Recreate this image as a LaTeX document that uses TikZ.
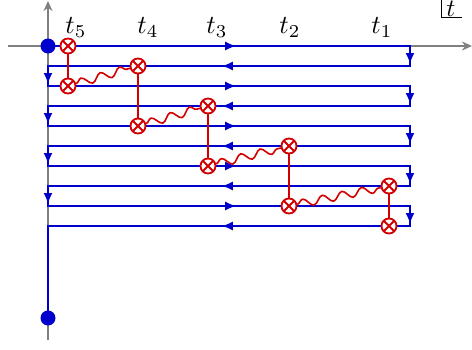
\documentclass[tikz,border=0pt]{standalone}
\usetikzlibrary{arrows.meta,decorations.markings,decorations.pathmorphing}
\definecolor{cblue}{RGB}{0,0,205}
\definecolor{cred}{RGB}{210,0,0}
\definecolor{cgray}{RGB}{128,128,128}
\begin{document}
\begin{tikzpicture}[x=1pt,y=-1pt,
  axis/.style={draw=cgray,line width=2pt,-{Stealth[length=10pt,width=9pt]}},
  cont/.style={draw=cblue,line width=2pt,line cap=rect},
  midarr/.style={cont,postaction={decorate},decoration={markings,
     mark=at position #1 with {\arrow[cblue]{Latex[length=11pt,width=9pt]}}}},
  dotn/.style={circle,fill=cblue,inner sep=0pt,minimum size=15pt},
  vtx/.style={circle,draw=cred,fill=white,line width=1.8pt,inner sep=0pt,minimum size=15pt,
     path picture={\draw[cred,line width=1.8pt]
       (path picture bounding box.north west)--(path picture bounding box.south east)
       (path picture bounding box.south west)--(path picture bounding box.north east);}},
  prop/.style={draw=cred,line width=1.6pt},
  wavy/.style={draw=cred,line width=1.6pt,decorate,decoration={snake,segment length=20pt,amplitude=4pt}},
  lab/.style={scale=2.6,inner sep=0pt}
]
\useasboundingbox (0,0) rectangle (472,349);
% axes
\coordinate (hx0) at (8,46);
\coordinate (hx1) at (472,46);
\coordinate (vy0) at (48,340);
\coordinate (vy1) at (48,1);
\draw[axis] (hx0) -- (hx1);
\draw[axis] (vy0) -- (vy1);
% axis label
\node[lab,scale=0.96] (tlab) at (451,9) {$t$};
\coordinate (ta) at (441,-2);
\coordinate (tb) at (441,17);
\coordinate (tc) at (462,17);
\draw[line width=1pt] (ta) -- (tb) -- (tc);
% contour corners
\foreach \i/\y in {0/46,1/66,2/86,3/106,4/126,5/146,6/166,7/186,8/206,9/226}{
  \coordinate (L\i) at (48,\y);
  \coordinate (R\i) at (410,\y);
}
\coordinate (E) at (48,318);
\draw[midarr=0.52] (L0) -- (R0);
\draw[midarr=0.9] (R0) -- (R1);
\draw[midarr=0.52] (R1) -- (L1);
\draw[midarr=0.9] (L1) -- (L2);
\draw[midarr=0.52] (L2) -- (R2);
\draw[midarr=0.9] (R2) -- (R3);
\draw[midarr=0.52] (R3) -- (L3);
\draw[midarr=0.9] (L3) -- (L4);
\draw[midarr=0.52] (L4) -- (R4);
\draw[midarr=0.9] (R4) -- (R5);
\draw[midarr=0.52] (R5) -- (L5);
\draw[midarr=0.9] (L5) -- (L6);
\draw[midarr=0.52] (L6) -- (R6);
\draw[midarr=0.9] (R6) -- (R7);
\draw[midarr=0.52] (R7) -- (L7);
\draw[midarr=0.9] (L7) -- (L8);
\draw[midarr=0.52] (L8) -- (R8);
\draw[midarr=0.9] (R8) -- (R9);
\draw[midarr=0.52] (R9) -- (L9);
\draw[cont] (L9) -- (E);
% end dots
\node[dotn] (d0) at (L0) {};
\node[dotn] (d1) at (E) {};
% time labels
\node[lab] (t5) at (76,27.5) {$t_5$};
\node[lab] (t4) at (148,27.5) {$t_4$};
\node[lab] (t3) at (217,27.5) {$t_3$};
\node[lab] (t2) at (290,27.5) {$t_2$};
\node[lab] (t1) at (382,27.5) {$t_1$};
% vertices
\node[vtx] (a5) at (68,46) {};
\node[vtx] (b5) at (68,86) {};
\node[vtx] (a4) at (138,66) {};
\node[vtx] (b4) at (138,126) {};
\node[vtx] (a3) at (208,106) {};
\node[vtx] (b3) at (208,166) {};
\node[vtx] (a2) at (289,146) {};
\node[vtx] (b2) at (289,206) {};
\node[vtx] (a1) at (389,186) {};
\node[vtx] (b1) at (389,226) {};
% propagators
\draw[prop] (a5) -- (b5);
\draw[prop] (a4) -- (b4);
\draw[prop] (a3) -- (b3);
\draw[prop] (a2) -- (b2);
\draw[prop] (a1) -- (b1);
\draw[wavy] (b5) -- (a4);
\draw[wavy] (b4) -- (a3);
\draw[wavy] (b3) -- (a2);
\draw[wavy] (b2) -- (a1);
\end{tikzpicture}
\end{document}
